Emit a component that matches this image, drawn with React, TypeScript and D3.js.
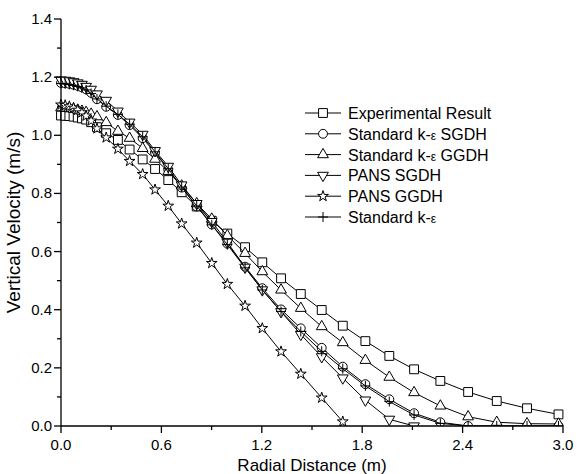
import * as d3 from 'd3'

// radial positions of the computed nodes (m)
const radial = [
  0, 0.025, 0.05, 0.075, 0.1, 0.125, 0.15, 0.18, 0.215, 0.27, 0.34, 0.41, 0.488, 0.562, 0.641,
  0.721, 0.811, 0.901, 0.994, 1.1, 1.203, 1.315, 1.433, 1.558, 1.684, 1.819, 1.962, 2.11, 2.267,
  2.433, 2.604, 2.785, 2.973,
]

const experimental = [
  1.068, 1.067, 1.066, 1.064, 1.061, 1.058, 1.054, 1.045, 1.028, 1.007, 0.984, 0.951, 0.917, 0.884,
  0.846, 0.804, 0.755, 0.706, 0.662, 0.615, 0.563, 0.508, 0.454, 0.399, 0.345, 0.292, 0.241, 0.195,
  0.155, 0.117, 0.086, 0.061, 0.04,
]
const keSGDH = [
  1.18, 1.179, 1.177, 1.174, 1.17, 1.165, 1.158, 1.146, 1.124, 1.098, 1.07, 1.035, 0.99, 0.94, 0.882,
  0.82, 0.755, 0.693, 0.627, 0.548, 0.474, 0.401, 0.336, 0.269, 0.204, 0.144, 0.092, 0.044, 0.013,
  0, 0, 0, 0,
]
const keGGDH = [
  1.095, 1.094, 1.092, 1.09, 1.087, 1.083, 1.079, 1.073, 1.064, 1.044, 1.014, 0.99, 0.955, 0.918,
  0.876, 0.826, 0.765, 0.712, 0.655, 0.594, 0.531, 0.468, 0.405, 0.342, 0.287, 0.226, 0.168, 0.115,
  0.069, 0.032, 0.013, 0.008, 0.007,
]
const pansSGDH = [
  1.19, 1.189, 1.187, 1.184, 1.18, 1.175, 1.168, 1.158, 1.142, 1.12, 1.083, 1.045, 1.003, 0.947,
  0.893, 0.829, 0.765, 0.703, 0.632, 0.546, 0.468, 0.393, 0.315, 0.238, 0.165, 0.089, 0.023, 0,
]
const pansGGDH = [
  1.105, 1.103, 1.099, 1.094, 1.087, 1.078, 1.067, 1.05, 1.023, 0.992, 0.953, 0.911, 0.866, 0.813,
  0.757, 0.696, 0.63, 0.56, 0.488, 0.413, 0.336, 0.256, 0.179, 0.097, 0.015,
]
const keStd = [
  1.178, 1.177, 1.175, 1.172, 1.168, 1.163, 1.156, 1.144, 1.125, 1.1, 1.072, 1.038, 0.995, 0.943,
  0.885, 0.822, 0.757, 0.692, 0.624, 0.544, 0.468, 0.394, 0.325, 0.257, 0.197, 0.138, 0.084, 0.038,
  0.009, 0, 0, 0, 0,
]

const seriesNames = [
  'Experimental Result',
  'Standard k-ε SGDH',
  'Standard k-ε GGDH',
  'PANS SGDH',
  'PANS GGDH',
  'Standard k-ε',
]
const seriesValues = [experimental, keSGDH, keGGDH, pansSGDH, pansGGDH, keStd]
const markerKinds = ['square', 'circle', 'triangle', 'down', 'star', 'plus']

const xTicks = [0, 0.6, 1.2, 1.8, 2.4, 3.0]
const yTicks = [0, 0.2, 0.4, 0.6, 0.8, 1.0, 1.2, 1.4]

const W = 580
const H = 474
const margin = { left: 61, right: 17, top: 19, bottom: 48 }
const FONT = "Arial, 'Liberation Sans', Helvetica, sans-serif"

const tri = d3.symbol(d3.symbolTriangle, 50)()
const sq = d3.symbol(d3.symbolSquare, 78)()
const circ = d3.symbol(d3.symbolCircle, 62)()
const star = d3.symbol(d3.symbolStar, 36)()

function Marker({ kind, x, y }: { kind: string; x: number; y: number }) {
  const common = { fill: '#fff', stroke: '#000', strokeWidth: 1 }
  if (kind === 'plus') {
    return (
      <path
        d={`M${x - 5},${y}H${x + 5}M${x},${y - 5}V${y + 5}`}
        stroke="#000"
        strokeWidth={1}
        fill="none"
      />
    )
  }
  if (kind === 'down') {
    return <path d={tri as string} transform={`translate(${x},${y}) rotate(180)`} {...common} />
  }
  const d = kind === 'square' ? sq : kind === 'circle' ? circ : kind === 'triangle' ? tri : star
  return <path d={d as string} transform={`translate(${x},${y})`} {...common} />
}

function Label({ text, ...rest }: { text: string; [k: string]: any }) {
  // the epsilon is set a little smaller, as in the source figure
  const parts = text.split('ε')
  return (
    <text {...rest}>
      {parts.map((p, i) => (
        <tspan key={i}>
          {p}
          {i < parts.length - 1 && <tspan fontSize={12}>ε</tspan>}
        </tspan>
      ))}
    </text>
  )
}

export default function App() {
  const x = d3.scaleLinear().domain([0, 3]).range([margin.left, W - margin.right])
  const y = d3.scaleLinear().domain([0, 1.4]).range([H - margin.bottom, margin.top])
  const y0 = y(0)

  const line = d3
    .line<[number, number]>()
    .x(d => x(d[0]))
    .y(d => y(d[1]))

  const xMinor = d3.range(0.3, 3, 0.6)
  const yMinor = d3.range(0.1, 1.4, 0.2)

  return (
    <svg
      width={W}
      height={H}
      style={{ position: 'absolute', left: 0, top: 0, background: '#fff' }}
      fontFamily={FONT}
    >
      <defs>
        <clipPath id="plot">
          <rect x={0} y={0} width={W} height={y0} />
        </clipPath>
      </defs>

      <g clipPath="url(#plot)">
        {seriesValues.map((vals, si) => {
          const pts = vals.map((v, i) => [radial[i], v] as [number, number])
          return (
            <g key={si}>
              <path d={line(pts) || ''} fill="none" stroke="#000" strokeWidth={1} />
              {pts.map((p, i) => (
                <Marker key={i} kind={markerKinds[si]} x={x(p[0])} y={y(p[1])} />
              ))}
            </g>
          )
        })}
      </g>

      {/* axes */}
      <line x1={x(0)} x2={x(3)} y1={y0} y2={y0} stroke="#000" strokeWidth={1.3} />
      <line x1={x(0)} x2={x(0)} y1={y(0)} y2={y(1.4)} stroke="#000" strokeWidth={1.3} />
      {xTicks.map(t => (
        <g key={'xt' + t}>
          <line x1={x(t)} x2={x(t)} y1={y0} y2={y0 + 7} stroke="#000" strokeWidth={1.3} />
          <text x={x(t)} y={y0 + 24} textAnchor="middle" fontSize={15} fill="#000">
            {t.toFixed(1)}
          </text>
        </g>
      ))}
      {xMinor.map(t => (
        <line key={'xm' + t} x1={x(t)} x2={x(t)} y1={y0} y2={y0 + 4} stroke="#000" strokeWidth={1.3} />
      ))}
      {yTicks.map(t => (
        <g key={'yt' + t}>
          <line x1={x(0) - 7} x2={x(0)} y1={y(t)} y2={y(t)} stroke="#000" strokeWidth={1.3} />
          <text x={x(0) - 9} y={y(t) + 5} textAnchor="end" fontSize={15} fill="#000">
            {t.toFixed(1)}
          </text>
        </g>
      ))}
      {yMinor.map(t => (
        <line key={'ym' + t} x1={x(0) - 4} x2={x(0)} y1={y(t)} y2={y(t)} stroke="#000" strokeWidth={1.3} />
      ))}

      <text x={(x(0) + x(3)) / 2} y={H - 3} textAnchor="middle" fontSize={17} fill="#000">
        Radial Distance (m)
      </text>
      <text
        transform={`translate(20,${(y(0) + y(1.4)) / 2}) rotate(-90)`}
        textAnchor="middle"
        fontSize={19}
        fill="#000"
      >
        Vertical Velocity (m/s)
      </text>

      {/* legend */}
      {seriesNames.map((name, i) => {
        const ly = 113 + i * 20.8
        return (
          <g key={name}>
            <line x1={305} x2={341} y1={ly} y2={ly} stroke="#000" strokeWidth={1} />
            <Marker kind={markerKinds[i]} x={323} y={ly} />
            <Label text={name} x={348} y={ly + 6} fontSize={16} fill="#000" />
          </g>
        )
      })}
    </svg>
  )
}
